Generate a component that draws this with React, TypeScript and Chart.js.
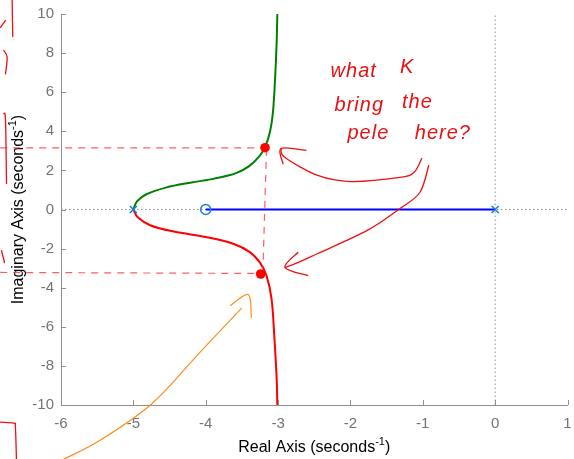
import React, { useEffect, useRef } from 'react';
import { Chart, registerables } from 'chart.js';

Chart.register(...registerables);

// ---- axes ----
const xRange = [-6, 1];
const yRange = [-10, 10];
const xStep = 1;
const yStep = 2;

// ---- root locus data ----
const poleX = [-5, 0];
const poleY = [0, 0];
const zeroX = [-4];
const zeroY = [0];
const blueBranchX = [-4, 0];
const blueBranchY = [0, 0];
const greenX = [-5.0, -4.95, -4.82, -4.55, -4.2, -3.88, -3.58, -3.4, -3.26, -3.18, -3.11, -3.07, -3.04, -3.02, -3.01];
const greenY = [0, 0.42, 0.78, 1.12, 1.38, 1.58, 1.86, 2.22, 2.72, 3.18, 4.0, 5.0, 6.8, 8.5, 10];
const redX = [-5.0, -4.94, -4.76, -4.44, -3.98, -3.62, -3.39, -3.25, -3.16, -3.09, -3.05, -3.02, -3.01];
const redY = [0, -0.4, -0.82, -1.13, -1.42, -1.75, -2.18, -2.72, -3.38, -4.57, -6.62, -8.6, -10];

// ---- hand-drawn annotations (data coordinates) ----
const markedX = [-3.18, -3.24];
const markedY = [3.16, -3.3];
const dashUpperX = [-6.84, -3.18];
const dashUpperY = [3.15, 3.15];
const dashLowerX = [-6.84, -3.25];
const dashLowerY = [-3.22, -3.27];
const dashVertX = [-3.16, -3.21];
const dashVertY = [3.1, -3.2];
const arrowAX = [-1.014, -1.123, -1.315, -2.0, -2.452, -2.904, -2.959];
const arrowAY = [2.61, 1.89, 1.64, 1.43, 1.74, 2.66, 3.12];
const arrowAHeadX = [-2.616, -2.959, -2.932];
const arrowAHeadY = [3.02, 3.12, 2.35];
const arrowBX = [-0.918, -1.041, -1.315, -1.767, -2.452, -2.753, -2.904];
const arrowBY = [2.25, 0.87, 0.05, -1.07, -2.25, -2.76, -2.97];
const arrowBHeadX = [-2.726, -2.904, -2.589];
const arrowBHeadY = [-2.2, -2.97, -3.38];
const orangeX = [-5.973, -5.466, -4.74, -4.096, -3.507];
const orangeY = [-12.79, -11.82, -9.92, -7.37, -5.06];
const orangeHeadX = [-3.658, -3.411, -3.37];
const orangeHeadY = [-4.91, -4.35, -5.52];
const scribbleA_X = [-6.675, -6.667];
const scribbleA_Y = [10.69, 8.85];
const scribbleB_X = [-6.836, -6.767];
const scribbleB_Y = [9.31, 9.67];
const scribbleC_X = [-6.79, -6.744, -6.767];
const scribbleC_Y = [8.13, 7.79, 6.94];
const scribbleD_X = [-6.79, -6.767, -6.753];
const scribbleD_Y = [4.91, 4.55, 1.33];
const scribbleE_X = [-6.822, -6.781];
const scribbleE_Y = [-2.1, -2.71];
const scribbleF_X = [-6.836, -6.653, -6.63, -6.616];
const scribbleF_Y = [-10.88, -10.93, -11.14, -12.79];
const noteWords = ['what', 'K', 'bring', 'the', 'pele', 'here?'];
const noteX = [-2.274, -1.315, -2.219, -1.288, -2.041, -1.11];
const noteY = [6.8, 6.96, 5.06, 5.17, 3.63, 3.63];

const xTitle = ['Real Axis (seconds', '-1', ')'];
const yTitle = ['Imaginary Axis (seconds', '-1', ')'];

const zip = (xs: number[], ys: number[]) => xs.map((x, i) => ({ x, y: ys[i] }));

const GRAY_LINE = '#8f8f8f';
const GRAY_TEXT = '#737373';
const FONT = "'Liberation Sans', Arial, Helvetica, sans-serif";

function smoothPath(ctx: CanvasRenderingContext2D, pts: { x: number; y: number }[]) {
  ctx.beginPath();
  ctx.moveTo(pts[0].x, pts[0].y);
  for (let i = 0; i < pts.length - 1; i++) {
    const p0 = pts[Math.max(0, i - 1)];
    const p1 = pts[i];
    const p2 = pts[i + 1];
    const p3 = pts[Math.min(pts.length - 1, i + 2)];
    ctx.bezierCurveTo(
      p1.x + (p2.x - p0.x) / 6, p1.y + (p2.y - p0.y) / 6,
      p2.x - (p3.x - p1.x) / 6, p2.y - (p3.y - p1.y) / 6,
      p2.x, p2.y
    );
  }
  ctx.stroke();
}

const decorPlugin = {
  id: 'decor',
  afterDraw(chart: any) {
    const { ctx, chartArea } = chart;
    const xs = chart.scales.x;
    const ys = chart.scales.y;
    const P = (xv: number[], yv: number[]) =>
      xv.map((v, i) => ({ x: xs.getPixelForValue(v), y: ys.getPixelForValue(yv[i]) }));
    ctx.save();

    // inward ticks
    ctx.strokeStyle = GRAY_LINE;
    ctx.lineWidth = 1;
    ctx.beginPath();
    xs.ticks.forEach((t: any) => {
      const px = Math.round(xs.getPixelForValue(t.value)) + 0.5;
      ctx.moveTo(px, chartArea.bottom);
      ctx.lineTo(px, chartArea.bottom - 5);
    });
    ys.ticks.forEach((t: any) => {
      const py = Math.round(ys.getPixelForValue(t.value)) + 0.5;
      ctx.moveTo(chartArea.left, py);
      ctx.lineTo(chartArea.left + 5, py);
    });
    ctx.stroke();

    // axis titles with superscript
    const drawTitle = (parts: string[]) => {
      ctx.font = `16px ${FONT}`;
      const w0 = ctx.measureText(parts[0]).width;
      const w2 = ctx.measureText(parts[2]).width;
      ctx.font = `11px ${FONT}`;
      const w1 = ctx.measureText(parts[1]).width;
      const total = w0 + w1 + w2;
      let cx = -total / 2;
      ctx.textAlign = 'left';
      ctx.textBaseline = 'alphabetic';
      ctx.fillStyle = '#000';
      ctx.font = `16px ${FONT}`;
      ctx.fillText(parts[0], cx, 0);
      cx += w0;
      ctx.font = `11px ${FONT}`;
      ctx.fillText(parts[1], cx, -7);
      cx += w1;
      ctx.font = `16px ${FONT}`;
      ctx.fillText(parts[2], cx, 0);
    };
    ctx.save();
    ctx.translate((chartArea.left + chartArea.right) / 2, 452);
    drawTitle(xTitle);
    ctx.restore();
    ctx.save();
    ctx.translate(23, (chartArea.top + chartArea.bottom) / 2);
    ctx.rotate(-Math.PI / 2);
    drawTitle(yTitle);
    ctx.restore();

    // dashed guide lines
    ctx.strokeStyle = 'rgba(255,40,40,0.75)';
    ctx.lineWidth = 1.2;
    ctx.setLineDash([7, 6]);
    [P(dashUpperX, dashUpperY), P(dashLowerX, dashLowerY), P(dashVertX, dashVertY)].forEach((pts) => {
      ctx.beginPath();
      ctx.moveTo(pts[0].x, pts[0].y);
      ctx.lineTo(pts[1].x, pts[1].y);
      ctx.stroke();
    });
    ctx.setLineDash([]);

    // marked poles
    ctx.fillStyle = '#ff0000';
    P(markedX, markedY).forEach((p) => {
      ctx.beginPath();
      ctx.arc(p.x, p.y, 4.8, 0, Math.PI * 2);
      ctx.fill();
    });

    // red arrows & scribbles
    ctx.strokeStyle = '#f01010';
    ctx.lineWidth = 1.3;
    ctx.lineCap = 'round';
    ctx.lineJoin = 'round';
    smoothPath(ctx, P(arrowAX, arrowAY));
    smoothPath(ctx, P(arrowAHeadX, arrowAHeadY));
    smoothPath(ctx, P(arrowBX, arrowBY));
    smoothPath(ctx, P(arrowBHeadX, arrowBHeadY));
    [
      P(scribbleA_X, scribbleA_Y), P(scribbleB_X, scribbleB_Y), P(scribbleC_X, scribbleC_Y),
      P(scribbleD_X, scribbleD_Y), P(scribbleE_X, scribbleE_Y), P(scribbleF_X, scribbleF_Y),
    ].forEach((pts) => smoothPath(ctx, pts));

    // orange arrow
    ctx.strokeStyle = '#ff8c1a';
    ctx.lineWidth = 1.2;
    smoothPath(ctx, P(orangeX, orangeY));
    smoothPath(ctx, P(orangeHeadX, orangeHeadY));

    // handwritten note
    ctx.fillStyle = '#e81010';
    ctx.font = `italic 20px ${FONT}`;
    ctx.textAlign = 'left';
    ctx.textBaseline = 'alphabetic';
    (ctx as any).letterSpacing = '1px';
    noteWords.forEach((w, i) => {
      ctx.fillText(w, xs.getPixelForValue(noteX[i]), ys.getPixelForValue(noteY[i]));
    });
    (ctx as any).letterSpacing = '0px';

    ctx.restore();
  },
};

export default function App() {
  const ref = useRef<HTMLCanvasElement | null>(null);
  useEffect(() => {
    if (!ref.current) return;
    const chart = new Chart(ref.current, {
      type: 'scatter',
      data: {
        datasets: [
          {
            data: zip(xRange, [0, 0]),
            showLine: true,
            borderColor: GRAY_LINE,
            borderWidth: 1,
            borderDash: [1.5, 2.5],
            pointRadius: 0,
            order: 10,
          },
          {
            data: zip([0, 0], yRange),
            showLine: true,
            borderColor: GRAY_LINE,
            borderWidth: 1,
            borderDash: [1.5, 2.5],
            pointRadius: 0,
            order: 10,
          },
          {
            data: zip(blueBranchX, blueBranchY),
            showLine: true,
            borderColor: '#0000ff',
            borderWidth: 2,
            pointRadius: 0,
            order: 8,
          },
          {
            data: zip(greenX, greenY),
            showLine: true,
            borderColor: '#008000',
            borderWidth: 2,
            pointRadius: 0,
            tension: 0.35,
            order: 6,
          },
          {
            data: zip(redX, redY),
            showLine: true,
            borderColor: '#ff0000',
            borderWidth: 2,
            pointRadius: 0,
            tension: 0.35,
            order: 6,
          },
          {
            data: zip(poleX, poleY),
            showLine: false,
            pointStyle: 'crossRot',
            pointRadius: 5,
            pointBorderColor: '#1a7fd6',
            pointBorderWidth: 1.5,
            order: 2,
          },
          {
            data: zip(zeroX, zeroY),
            showLine: false,
            pointStyle: 'circle',
            pointRadius: 5,
            pointBackgroundColor: 'rgba(0,0,0,0)',
            pointBorderColor: '#1a7fd6',
            pointBorderWidth: 1.5,
            order: 2,
          },
        ],
      },
      options: {
        responsive: false,
        animation: false,
        devicePixelRatio: 1,
        layout: { padding: { top: 14, right: 2, left: 0, bottom: 0 } },
        plugins: { legend: { display: false }, tooltip: { enabled: false } },
        scales: {
          x: {
            type: 'linear',
            min: xRange[0],
            max: xRange[1],
            ticks: {
              stepSize: xStep,
              color: GRAY_TEXT,
              font: { size: 15, family: FONT },
              padding: 10,
              maxRotation: 0,
            },
            grid: { display: false, drawTicks: false },
            border: { display: true, color: GRAY_LINE, width: 1 },
            afterFit: (s: any) => {
              s.height = 54;
              s.paddingLeft = 0;
              s.paddingRight = 0;
            },
          },
          y: {
            type: 'linear',
            min: yRange[0],
            max: yRange[1],
            ticks: {
              stepSize: yStep,
              color: GRAY_TEXT,
              font: { size: 15, family: FONT },
              padding: 7,
            },
            grid: { display: false, drawTicks: false },
            border: { display: true, color: GRAY_LINE, width: 1 },
            afterFit: (s: any) => {
              s.width = 61;
              s.paddingTop = 0;
              s.paddingBottom = 0;
            },
          },
        },
      },
      plugins: [decorPlugin],
    } as any);
    return () => chart.destroy();
  }, []);
  return (
    <div style={{ position: 'fixed', left: 0, top: 0, width: 574, height: 459, background: '#fff' }}>
      <canvas ref={ref} width={574} height={459} />
    </div>
  );
}
